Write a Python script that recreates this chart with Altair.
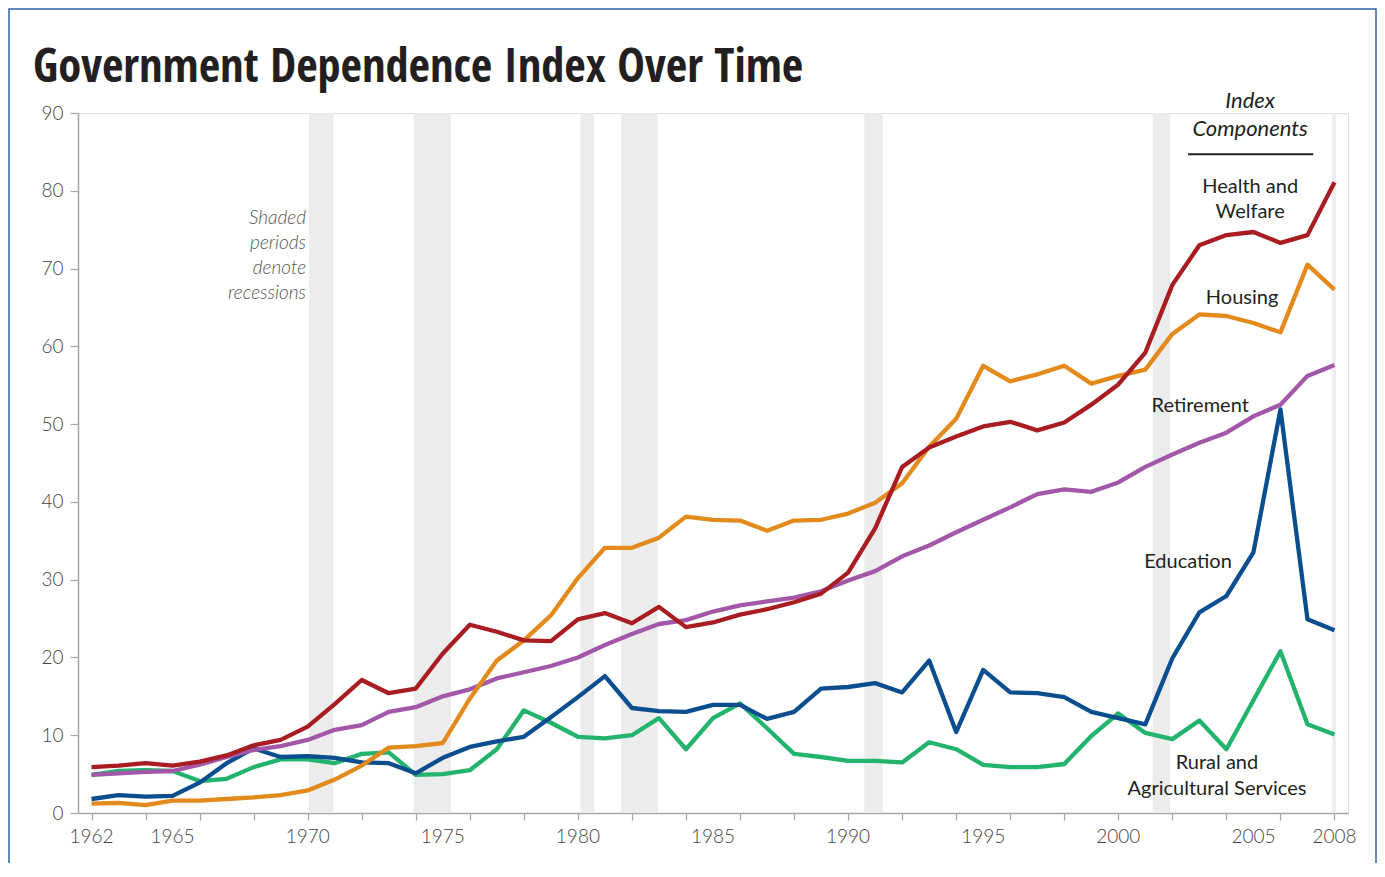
import altair as alt
import pandas as pd

years = list(range(1962, 2009))

health_welfare = [5.9, 6.1, 6.4, 6.1, 6.6, 7.4, 8.7, 9.4, 11.1, 14.0, 17.1, 15.4, 16.0, 20.5, 24.2, 23.3,
                  22.2, 22.1, 24.9, 25.7, 24.4, 26.5, 23.9, 24.5, 25.5, 26.2, 27.1, 28.2, 30.9, 36.6,
                  44.5, 47.0, 48.4, 49.7, 50.3, 49.2, 50.2, 52.5, 55.1, 59.2, 67.9, 73.0, 74.3, 74.7,
                  73.3, 74.3, 81.1]
housing = [1.2, 1.3, 1.0, 1.6, 1.6, 1.8, 2.0, 2.3, 2.9, 4.3, 6.1, 8.4, 8.6, 9.0, 14.7, 19.6,
           22.2, 25.4, 30.2, 34.1, 34.1, 35.4, 38.1, 37.7, 37.6, 36.3, 37.6, 37.7, 38.5, 39.9,
           42.4, 47.1, 50.7, 57.5, 55.5, 56.4, 57.5, 55.2, 56.2, 57.0, 61.6, 64.1, 63.9, 63.0,
           61.8, 70.5, 67.3]
retirement = [4.9, 5.1, 5.3, 5.4, 6.2, 7.2, 8.1, 8.6, 9.4, 10.7, 11.3, 13.0, 13.6, 15.0, 15.9, 17.3,
              18.1, 18.9, 20.0, 21.6, 23.0, 24.3, 24.8, 25.9, 26.7, 27.2, 27.7, 28.5, 29.9, 31.1,
              33.0, 34.4, 36.1, 37.7, 39.3, 41.0, 41.6, 41.3, 42.5, 44.5, 46.1, 47.6, 48.9, 51.0,
              52.5, 56.2, 57.6]
education = [1.8, 2.3, 2.1, 2.2, 3.9, 6.4, 8.3, 7.2, 7.3, 7.1, 6.5, 6.4, 5.1, 7.1, 8.5, 9.2,
             9.8, 12.3, 14.9, 17.6, 13.5, 13.1, 13.0, 13.9, 13.9, 12.1, 13.0, 16.0, 16.2, 16.7,
             15.5, 19.6, 10.4, 18.4, 15.5, 15.4, 14.9, 13.0, 12.2, 11.4, 19.9, 25.8, 27.9, 33.5,
             51.9, 24.9, 23.5]
rural_ag = [4.9, 5.4, 5.5, 5.4, 4.1, 4.4, 5.9, 6.9, 6.9, 6.4, 7.6, 7.8, 4.9, 5.0, 5.5, 8.2,
            13.2, 11.6, 9.8, 9.6, 10.0, 12.2, 8.2, 12.2, 14.1, 10.9, 7.6, 7.2, 6.7, 6.7,
            6.5, 9.1, 8.2, 6.2, 5.9, 5.9, 6.3, 9.9, 12.8, 10.3, 9.5, 11.9, 8.2, 14.5,
            20.8, 11.4, 10.1]

series_names = ["Rural and Agricultural Services", "Education", "Retirement", "Housing", "Health and Welfare"]
series_values = [rural_ag, education, retirement, housing, health_welfare]
series_colors = ["#22b36c", "#0b4e8f", "#a257a9", "#e38a1d", "#a81c22"]

rec_start = [1970.05, 1973.92, 1980.1, 1981.6, 1990.6, 2001.27, 2007.92]
rec_end = [1970.95, 1975.3, 1980.6, 1982.95, 1991.28, 2001.92, 2008.05]

x_tick_labels = [1962, 1965, 1970, 1975, 1980, 1985, 1990, 1995, 2000, 2005, 2008]
y_ticks = [0, 10, 20, 30, 40, 50, 60, 70, 80, 90]

title_text = "Government Dependence Index Over Time"

# annotation labels (anchored in data coordinates)
lab_text = ["Health and", "Welfare", "Housing", "Retirement", "Education", "Rural and", "Agricultural Services"]
lab_x = [2004.88, 2004.88, 2004.58, 2003.03, 2002.58, 2003.65, 2003.65]
lab_y = [80.5, 77.3, 66.2, 52.3, 32.3, 6.4, 3.1]

head_text = ["Index", "Components"]
head_x = [2004.88, 2004.88]
head_y = [91.5, 87.9]

note_text = ["Shaded", "periods", "denote", "recessions"]
note_x = [1969.94, 1969.94, 1969.94, 1969.94]
note_y = [76.5, 73.3, 70.1, 66.9]

# ---- build tables
rows = []
for name, vals in zip(series_names, series_values):
    for yr, v in zip(years, vals):
        rows.append({"year": yr, "value": v, "series": name})
df = pd.DataFrame(rows)
rec_df = pd.DataFrame({"start": rec_start, "end": rec_end, "lo": [0] * len(rec_start), "hi": [90] * len(rec_start)})
lab_df = pd.DataFrame({"text": lab_text, "x": lab_x, "y": lab_y})
head_df = pd.DataFrame({"text": head_text, "x": head_x, "y": head_y})
note_df = pd.DataFrame({"text": note_text, "x": note_x, "y": note_y})
rule_df = pd.DataFrame({"x": [2002.58], "x2": [2007.21], "y": [84.7]})
xlab_df = pd.DataFrame({"year": x_tick_labels, "text": [str(v) for v in x_tick_labels]})

LABEL_FONT = "Lato, Noto Sans, sans-serif"
TITLE_FONT = "Open Sans Condensed, Roboto Condensed, Liberation Sans, sans-serif"

xscale = alt.Scale(domain=[1961.5, 2008.5], nice=False, zero=False)
yscale = alt.Scale(domain=[0, 90], nice=False)

x_axis = alt.Axis(values=years, labels=False, title=None, grid=False,
                  tickSize=7, tickColor="#a6a6a6", domainColor="#a6a6a6", domainWidth=1.5, tickWidth=1.2)
y_axis = alt.Axis(values=y_ticks, title=None, grid=False, tickSize=8, tickColor="#a6a6a6",
                  domainColor="#a6a6a6", domainWidth=1.5, tickWidth=1.2,
                  labelFont=LABEL_FONT, labelFontSize=19, labelColor="#444444", labelPadding=7,
                  labelOverlap=False, labelFontWeight=300)

bands = alt.Chart(rec_df).mark_rect(color="#ececec").encode(
    x=alt.X("start:Q", scale=xscale, axis=x_axis),
    x2="end:Q",
    y=alt.Y("lo:Q", scale=yscale, axis=y_axis),
    y2="hi:Q",
)

lines = alt.Chart(df).mark_line(strokeWidth=4.3, strokeJoin="round").encode(
    x=alt.X("year:Q", scale=xscale, axis=x_axis),
    y=alt.Y("value:Q", scale=yscale, axis=y_axis),
    color=alt.Color("series:N", scale=alt.Scale(domain=series_names, range=series_colors), legend=None),
    order=alt.Order("year:Q"),
    detail="series:N",
)

xlabels = alt.Chart(xlab_df).mark_text(font=LABEL_FONT, fontSize=19, fontWeight=300, color="#444444",
                                       align="center", baseline="alphabetic").encode(
    x=alt.X("year:Q", scale=xscale), y=alt.value(730), text="text:N")

labels = alt.Chart(lab_df).mark_text(font=LABEL_FONT, fontSize=20, color="#231f20", align="center",
                                     baseline="middle").encode(
    x=alt.X("x:Q", scale=xscale), y=alt.Y("y:Q", scale=yscale), text="text:N")

heads = alt.Chart(head_df).mark_text(font=LABEL_FONT, fontSize=22, fontStyle="italic", color="#231f20",
                                     align="center", baseline="middle").encode(
    x=alt.X("x:Q", scale=xscale), y=alt.Y("y:Q", scale=yscale), text="text:N")

head_rule = alt.Chart(rule_df).mark_rule(color="#231f20", strokeWidth=2).encode(
    x=alt.X("x:Q", scale=xscale), x2="x2:Q", y=alt.Y("y:Q", scale=yscale))

notes = alt.Chart(note_df).mark_text(font=LABEL_FONT, fontSize=19, fontStyle="italic", fontWeight=300,
                                     color="#555555", align="right", baseline="middle").encode(
    x=alt.X("x:Q", scale=xscale), y=alt.Y("y:Q", scale=yscale), text="text:N")

title_mark = alt.Chart(pd.DataFrame({"t": [title_text]})).mark_text(
    font=TITLE_FONT, fontSize=46.5, fontWeight="bold", color="#231f20", align="left", baseline="alphabetic"
).encode(x=alt.value(-45), y=alt.value(-31), text="t:N")

border = alt.Chart(pd.DataFrame({"a": [0]})).mark_rect(filled=False, stroke="#2a62a3", strokeWidth=1.5).encode(
    x=alt.value(-69), x2=alt.value(1298), y=alt.value(-104), y2=alt.value(820))

chart = alt.layer(bands, lines, xlabels, labels, heads, head_rule, notes, title_mark, border).properties(
    width=1270, height=700,
    autosize=alt.AutoSizeParams(type="none"),
    padding={"left": 70, "top": 105, "right": 29, "bottom": 50},
).configure_view(strokeWidth=0).configure(background="white")

chart.save("out.html", embed_options={"renderer": "svg", "actions": False})
